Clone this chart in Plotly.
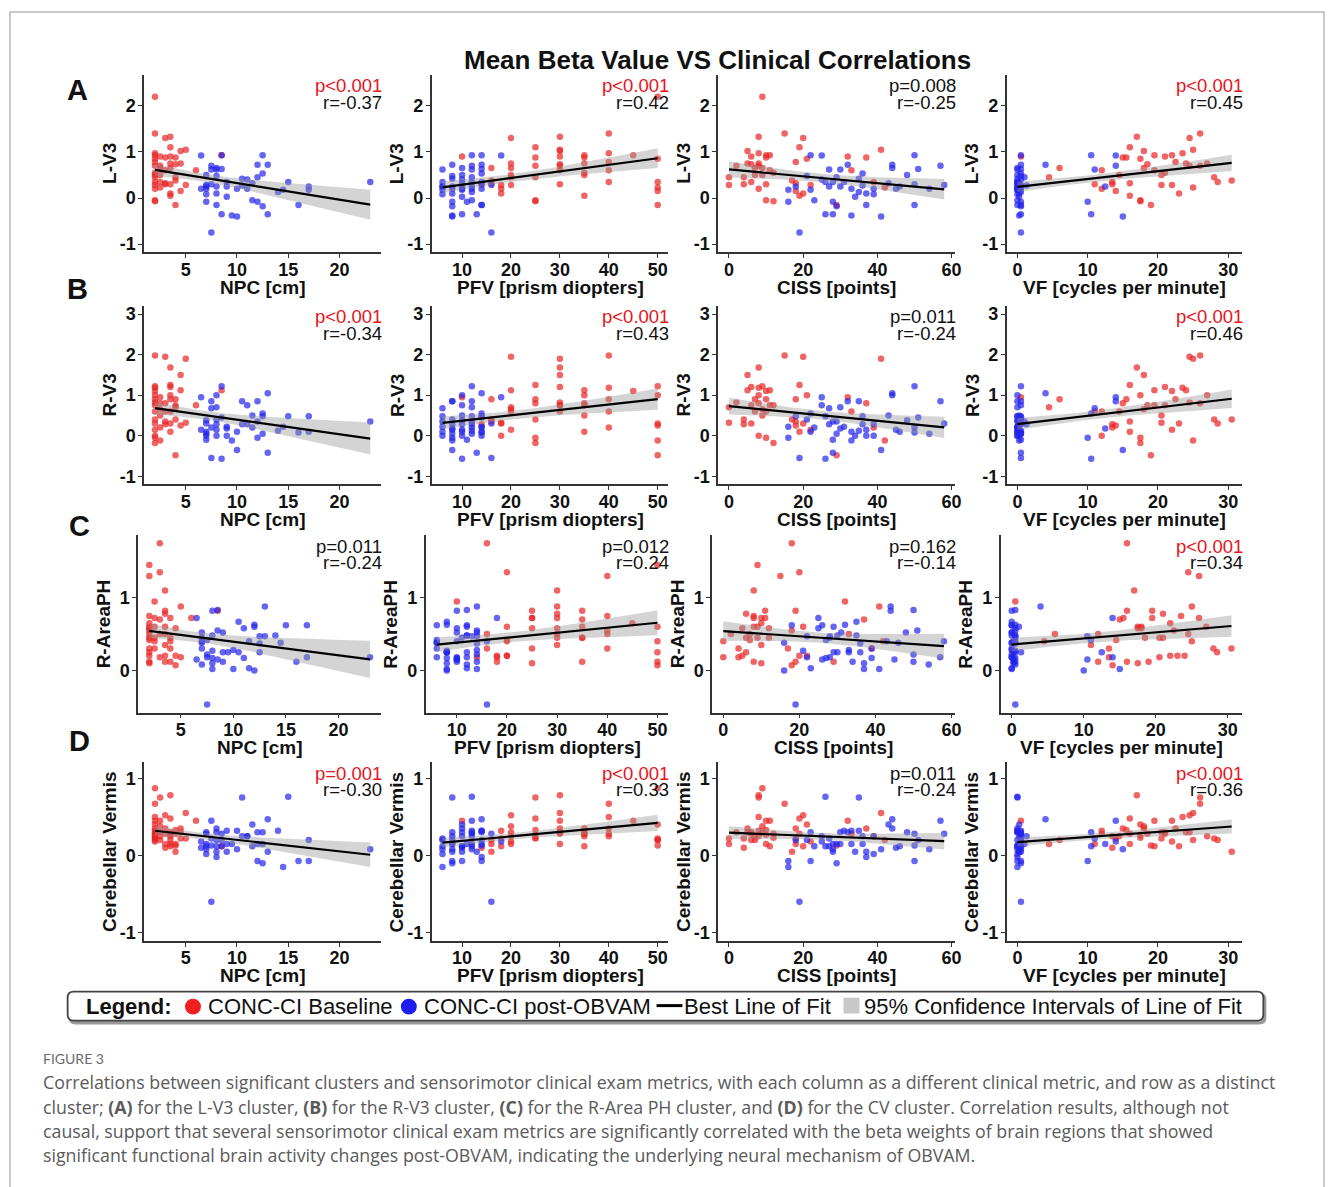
import numpy as np
import plotly.graph_objects as go

W, H = 1333, 1187
nan = float("nan")

# ---------------- data ----------------
# CONC-CI Baseline subjects (red)
base_npc = [2, 2, 2, 2, 2, 2, 2, 2, 2, 2, 2, 2, 2, 2, 2,
            2.5, 2.5, 2.5, 2.5, 2.5, 2.5, 3, 3, 3, 3, 3,
            3.5, 3.5, 3.5, 3.5, 3.5, 3.5, 3.5, 3.5, 4, 4, 4, 4, 4,
            4.5, 4.5, 4.5, 5, 5, 6, 8.5]
base_pfv = [50, 40, 40, 45, 50, 40, 30, 35, 20, 25, 50, 20, 18, 25, 25,
            10, 25, 20, 35, 40, 50, 20, 35, 40, 16, 14,
            30, 25, 30, 35, 16, 30, 18, 35, 25, 30, 20, 16, 50,
            30, 20, 50, 30, 18, 30, 35]
base_ciss = [9, 15, 8, 10, 21, 18, 2, 12, 7, 4, 6, 22, 8, 10, 12,
             32, 8, 9, 9, 39, 42, 20, 37, 33, 18, 4,
             8, 19, 6, 8, 7, 10, 20, 19, 10, 6, 0, 17, 29,
             5, 5, 18, 41, 0, 11, 11]
base_vf = [nan, 26, 23.5, 22, 17.5, 22.5, 24.5, 21, 14.5, 28, 28.5, 22, 12, 17.5, 17.5,
           0.5, 26, 18, 20.5, 13.5, 25, 24.5, 15, 12, 16, 13.5,
           17, 16, 21, 27, 6, 11, 23, 16, 15.5, 18.5, 4.5, 30.5, 19,
           18, 24, 14, 25, 20.5, 19.5, 19.5]
base_lv3 = [2.20, 1.40, 0.97, 0.93, 0.85, 0.78, 0.70, 0.55, 0.50, 0.45, 0.35, 0.28, 0.20, -0.05, -0.07,
            0.90, 0.70, 0.65, 0.50, 0.35, 0.23, 1.30, 0.88, 0.60, 0.32, 0.30,
            1.33, 1.10, 0.90, 0.75, 0.65, 0.30, 0.10, 0.05, 0.88, 0.73, 0.45, 0.38, -0.15,
            1.02, 0.75, 0.15, 1.05, 0.28, 0.60, 0.93]
base_rv3 = [1.22, 1.98, 1.18, 1.10, 1.00, 0.90, 0.82, 0.75, 0.60, 0.40, 0.30, 0.15, 0.00, -0.05, -0.18,
            0.95, 0.80, 0.65, 0.50, 0.20, -0.12, 1.95, 0.80, 0.60, 0.35, 0.28,
            1.68, 1.25, 1.20, 1.00, 0.90, 0.60, 0.30, 0.10, 0.90, 0.75, 0.70, 0.40, -0.48,
            1.50, 1.12, 0.25, 1.90, 0.32, 0.75, 1.12]
base_raph = [1.45, 1.30, 0.75, 0.65, 0.60, 0.55, 0.50, 0.45, 0.42, 0.30, 0.25, 0.20, 0.12, 0.10, 0.58,
             0.95, 0.72, 0.60, 0.45, 0.30, 0.40, 1.35, 0.70, 0.50, 1.75, 0.18,
             1.10, 0.82, 0.78, 0.60, 0.50, 0.35, 0.20, 0.12, 0.72, 0.45, 0.40, 0.30, 0.12,
             0.58, 0.20, 0.07, 0.88, 0.18, 0.72, 0.82]
base_cv = [0.87, 0.67, 0.50, 0.45, 0.40, 0.35, 0.30, 0.28, 0.25, 0.22, 0.20, 0.18, 0.32, 0.27, 0.23,
           0.45, 0.75, 0.38, 0.30, 0.25, 0.20, 0.52, 0.35, 0.28, 0.15, 0.10,
           0.78, 0.48, 0.30, 0.25, 0.20, 0.15, 0.12, 0.28, 0.33, 0.28, 0.15, 0.05, 0.13,
           0.35, 0.30, 0.22, 0.55, 0.22, 0.45, 0.12]

# CONC-CI post-OBVAM subjects (blue)
post_npc = [6.5, 6.5, 7, 7, 7, 7, 7, 7, 7.5, 7.5, 7.5, 7.5, 8, 8, 8, 8, 8, 8,
            8.5, 8.5, 8.5, 9, 9, 9, 9.5, 10, 10, 10.5, 10.5, 11, 11, 11.5, 11.5,
            12, 12, 12, 12.5, 12.5, 12.5, 13, 13, 14, 14.5, 15, 16, 17, 17, 23]
post_pfv = [18, 10, 10, 16, 6, 12, 6, 11, 12, 6, 14, 16, 10, 12, 8, 10, 8, 14,
            12, 14, 10, 14, 8, 10, 8, 14, 8, 8, 12, 10, 8, 10, 12,
            8, 12, 8, 14, 14, 8, 14, 13, 12, 6, 12, 14, 6, 10, 6]
post_ciss = [25, 45, 48, 58, 46, 54, 39, 28, 57, 27, 50, 19, 44, 30, 21, 27, 37, 37,
             50, 51, 26, 31, 30, 34, 33, 33, 41, 35, 36, 25, 39, 43, 23,
             32, 29, 16, 22, 36, 29, 44, 28, 35, 16, 26, 50, 18, 22, 28]
post_vf = [14, 0.25, 0, 0.5, 0, 0.5, 0, 0.5, 14, 11, 0, 0.5, 0, 0, 0.5, 0.5, 0.25, 0,
           0.5, 0.5, 10.5, 0, 12.5, 0.25, 0.25, 0, 15, 0, 1.3, 0.5, 0.25, 0.25, 0,
           0.5, 1, 10, 10.5, 0.5, 0.5, 4, 0.5, 0.5, 0, 0, 0.5, 0, 0, 0]
post_lv3 = [0.92, 0.20, 0.50, 0.28, 0.25, 0.20, 0.08, -0.08, 0.70, 0.62, 0.30, -0.75,
            0.65, 0.62, 0.48, 0.25, 0.10, -0.15, 0.93, 0.63, -0.35, 0.35, 0.25, 0.03,
            -0.38, 0.20, -0.40, 0.42, 0.27, 0.40, 0.20, 0.32, -0.05,
            0.72, 0.45, -0.08, 0.93, 0.53, -0.18, 0.72, -0.35, 0.13, 0.18, 0.35, -0.15, 0.25, 0.18, 0.35]
post_rv3 = [0.95, 0.15, 0.38, 0.30, 0.10, 0.05, 0.00, -0.10, 0.85, 0.68, 0.20, -0.55,
            1.00, 0.70, 0.40, 0.28, 0.15, 0.00, 1.22, 0.45, -0.57, 0.22, 0.18, 0.00,
            -0.12, 0.10, -0.35, 0.85, 0.28, 0.75, 0.28, 0.50, 0.20,
            0.85, 0.35, -0.05, 0.55, 0.48, 0.05, 1.05, -0.42, 0.12, 0.22, 0.48, 0.08, 0.48, 0.10, 0.35]
post_raph = [0.72, 0.15, 0.52, 0.40, 0.38, 0.08, 0.30, 0.45, 0.18, 0.42, 0.22, -0.47,
             0.82, 0.48, 0.27, 0.17, 0.10, 0.02, 0.83, 0.55, 0.15, 0.52, 0.25, 0.12,
             0.25, 0.28, 0.02, 0.67, 0.25, 0.58, 0.17, 0.40, 0.03,
             0.63, 0.60, 0.00, 0.47, 0.37, 0.25, 0.88, 0.47, 0.48, 0.38, 0.62, 0.12, 0.62, 0.18, 0.18]
post_cv = [0.18, 0.10, 0.30, 0.28, 0.12, 0.08, 0.02, 0.15, 0.45, 0.22, 0.13, -0.60,
           0.35, 0.30, 0.20, 0.12, 0.05, -0.02, 0.28, 0.20, 0.12, 0.32, 0.15, 0.05,
           0.15, 0.32, 0.08, 0.75, 0.25, 0.25, 0.25, 0.40, 0.12,
           0.30, 0.15, -0.07, 0.30, 0.15, -0.10, 0.47, 0.05, 0.32, -0.15, 0.76, -0.07, 0.20, -0.07, 0.08]

x_titles = ["NPC [cm]", "PFV [prism diopters]", "CISS [points]", "VF [cycles per minute]"]
y_titles = ["L-V3", "R-V3", "R-AreaPH", "Cerebellar Vermis"]
row_letters = ["A", "B", "C", "D"]
p_labels = [["p<0.001", "p<0.001", "p=0.008", "p<0.001"],
            ["p<0.001", "p<0.001", "p=0.011", "p<0.001"],
            ["p=0.011", "p=0.012", "p=0.162", "p<0.001"],
            ["p=0.001", "p<0.001", "p=0.011", "p<0.001"]]
r_labels = [["r=-0.37", "r=0.42", "r=-0.25", "r=0.45"],
            ["r=-0.34", "r=0.43", "r=-0.24", "r=0.46"],
            ["r=-0.24", "r=0.24", "r=-0.14", "r=0.34"],
            ["r=-0.30", "r=0.33", "r=-0.24", "r=0.36"]]
x_tick_vals = [[5, 10, 15, 20], [10, 20, 30, 40, 50], [0, 20, 40, 60], [0, 10, 20, 30]]
x_tick_text = [["5", "10", "15", "20"], ["10", "20", "30", "40", "50"], ["0", "20", "40", "60"],
               ["0", "10", "20", "30"]]
y_tick_vals = [[-1, 0, 1, 2], [-1, 0, 1, 2, 3], [0, 1], [-1, 0, 1]]
y_tick_text = [["-1", "0", "1", "2"], ["-1", "0", "1", "2", "3"], ["0", "1"], ["-1", "0", "1"]]
y_limits = [[-1, 2.5], [-1, 3], None, [-1, 1.1]]

legend_labels = ["CONC-CI Baseline", "CONC-CI post-OBVAM", "Best Line of Fit",
                 "95% Confidence Intervals of Line of Fit"]
caption_head = "FIGURE 3"
caption_lines = [
    "Correlations between significant clusters and sensorimotor clinical exam metrics, with each column as a different clinical metric, and row as a distinct",
    "cluster; <b>(A)</b> for the L-V3 cluster, <b>(B)</b> for the R-V3 cluster, <b>(C)</b> for the R-Area PH cluster, and <b>(D)</b> for the CV cluster. Correlation results, although not",
    "causal, support that several sensorimotor clinical exam metrics are significantly correlated with the beta weights of brain regions that showed",
    "significant functional brain activity changes post-OBVAM, indicating the underlying neural mechanism of OBVAM.",
]

base_x = [base_npc, base_pfv, base_ciss, base_vf]
post_x = [post_npc, post_pfv, post_ciss, post_vf]
base_y = [base_lv3, base_rv3, base_raph, base_cv]
post_y = [post_lv3, post_rv3, post_raph, post_cv]

# ---------------- layout geometry (pixels) ----------------
COL_L = [145, 434, 722, 1012]
COL_R = [383, 672, 960, 1249]
ROW_T = [73, 305, 535, 763]
ROW_B = [251, 484, 713, 942]
ROW_SHIFT = [0, 0, -6, 0]

RED = "rgba(232,35,35,0.70)"
BLUE = "rgba(35,35,235,0.70)"
AXC = "#333333"
FONT = "Liberation Sans, Arial, sans-serif"
T975 = 1.986


def px(x):
    return x / W


def py(y):
    return 1 - y / H


def expand(lo, hi, f=0.05):
    d = (hi - lo) * f
    return [lo - d, hi + d]


def bold(lst):
    return ["<b>" + t + "</b>" for t in lst]


fig = go.Figure()
annotations = []
shapes = []

for r in range(4):
    for c in range(4):
        k = r * 4 + c + 1
        sx = "" if k == 1 else str(k)
        bx = np.array(base_x[c], float)
        by = np.array(base_y[r], float)
        qx = np.array(post_x[c], float)
        qy = np.array(post_y[r], float)
        mb = ~np.isnan(bx) & ~np.isnan(by)
        mq = ~np.isnan(qx) & ~np.isnan(qy)
        ax_ = np.concatenate([bx[mb], qx[mq]])
        ay_ = np.concatenate([by[mb], qy[mq]])

        fig.add_trace(go.Scatter(x=bx[mb], y=by[mb], mode="markers", xaxis="x" + sx, yaxis="y" + sx,
                                 marker=dict(size=6.5, color=RED, line=dict(width=0)),
                                 showlegend=False, hoverinfo="skip"))
        fig.add_trace(go.Scatter(x=qx[mq], y=qy[mq], mode="markers", xaxis="x" + sx, yaxis="y" + sx,
                                 marker=dict(size=6.5, color=BLUE, line=dict(width=0)),
                                 showlegend=False, hoverinfo="skip"))

        # linear fit with 95% CI (like geom_smooth(method="lm"))
        n = len(ax_)
        xm = ax_.mean()
        sxx = ((ax_ - xm) ** 2).sum()
        b1 = ((ax_ - xm) * (ay_ - ay_.mean())).sum() / sxx
        b0 = ay_.mean() - b1 * xm
        resid = ay_ - (b0 + b1 * ax_)
        s = np.sqrt((resid ** 2).sum() / (n - 2))
        gx = np.linspace(ax_.min(), ax_.max(), 80)
        gy = b0 + b1 * gx
        se = s * np.sqrt(1 / n + (gx - xm) ** 2 / sxx)
        lo, hi = gy - T975 * se, gy + T975 * se
        fig.add_trace(go.Scatter(x=np.concatenate([gx, gx[::-1]]), y=np.concatenate([hi, lo[::-1]]),
                                 xaxis="x" + sx, yaxis="y" + sx, mode="lines", fill="toself",
                                 fillcolor="rgba(153,153,153,0.42)", line=dict(width=0),
                                 showlegend=False, hoverinfo="skip"))
        fig.add_trace(go.Scatter(x=gx, y=gy, xaxis="x" + sx, yaxis="y" + sx, mode="lines",
                                 line=dict(color="black", width=2.2), showlegend=False, hoverinfo="skip"))

        xr = expand(np.nanmin(np.concatenate([bx, qx])), np.nanmax(np.concatenate([bx, qx])))
        if y_limits[r] is None:
            yr = expand(np.nanmin(np.concatenate([by, qy])), np.nanmax(np.concatenate([by, qy])))
        else:
            yr = expand(*y_limits[r])

        left = COL_L[c] + ROW_SHIFT[r]
        right = COL_R[c]
        top = ROW_T[r]
        bot = ROW_B[r]
        common = dict(showline=True, linecolor=AXC, linewidth=1.6, ticks="outside", ticklen=4,
                      tickwidth=1.3, tickcolor=AXC, showgrid=False, zeroline=False,
                      tickfont=dict(family=FONT, size=18, color="#111111"),
                      fixedrange=True)
        fig.update_layout(**{
            "xaxis" + sx: dict(domain=[px(left), px(right)], range=xr, tickvals=x_tick_vals[c],
                               ticktext=bold(x_tick_text[c]), ticklabelstandoff=-4,
                               anchor="y" + sx, **common),
            "yaxis" + sx: dict(domain=[py(bot), py(top)], range=yr, tickvals=y_tick_vals[r],
                               ticktext=bold(y_tick_text[r]), ticklabelstandoff=-1,
                               anchor="x" + sx, **common),
        })

        # p / r annotations
        pcol = "#e8141c" if (p_labels[r][c].startswith("p<") or p_labels[r][c] == "p=0.001") else "#111111"
        annotations.append(dict(x=px(right + 3), y=py(top + 11), xref="paper", yref="paper",
                                text=p_labels[r][c], showarrow=False, xanchor="right", yanchor="middle",
                                font=dict(family=FONT, size=18.5, color=pcol)))
        annotations.append(dict(x=px(right + 3), y=py(top + 27.5), xref="paper", yref="paper",
                                text=r_labels[r][c], showarrow=False, xanchor="right", yanchor="middle",
                                font=dict(family=FONT, size=18.5, color="#111111")))
        # axis titles
        annotations.append(dict(x=px((left + right) / 2), y=py(bot + 35), xref="paper", yref="paper",
                                text="<b>" + x_titles[c] + "</b>", showarrow=False,
                                xanchor="center", yanchor="middle",
                                font=dict(family=FONT, size=19, color="#111111")))
        annotations.append(dict(x=px(left - 35), y=py((top + bot) / 2), xref="paper", yref="paper",
                                text="<b>" + y_titles[r] + "</b>", showarrow=False, textangle=-90,
                                xanchor="center", yanchor="middle",
                                font=dict(family=FONT, size=19, color="#111111")))

# row letters
for r, (lx, ly) in enumerate([(78, 88), (78, 288), (80, 526), (80, 741)]):
    annotations.append(dict(x=px(lx), y=py(ly), xref="paper", yref="paper", text="<b>" + row_letters[r] + "</b>",
                            showarrow=False, xanchor="center", yanchor="middle",
                            font=dict(family=FONT, size=29, color="#111111")))

# title
annotations.append(dict(x=px(721), y=py(58), xref="paper", yref="paper",
                        text="<b>Mean Beta Value VS Clinical Correlations</b>", showarrow=False,
                        xanchor="center", yanchor="middle", font=dict(family=FONT, size=26, color="#111111")))

# legend box (rounded)
def rounded_path(x0, y0, x1, y1, rad):
    X0, X1 = px(x0), px(x1)
    Y0, Y1 = py(y0), py(y1)
    rx, ry = rad / W, rad / H
    return (f"M {X0+rx},{Y0} L {X1-rx},{Y0} Q {X1},{Y0} {X1},{Y0-ry} "
            f"L {X1},{Y1+ry} Q {X1},{Y1} {X1-rx},{Y1} L {X0+rx},{Y1} Q {X0},{Y1} {X0},{Y1+ry} "
            f"L {X0},{Y0-ry} Q {X0},{Y0} {X0+rx},{Y0} Z")

shapes.append(dict(type="path", path=rounded_path(70, 995, 1272, 1025, 6), xref="paper", yref="paper",
                   line=dict(color="#9a9a9a", width=2), fillcolor="#9a9a9a", layer="above"))
shapes.append(dict(type="path", path=rounded_path(68, 993, 1270, 1022, 6), xref="paper", yref="paper",
                   line=dict(color="#444444", width=1.8), fillcolor="white", layer="above"))
# legend keys
shapes.append(dict(type="circle", xref="paper", yref="paper", x0=px(186), x1=px(202), y0=py(1016), y1=py(1000),
                   fillcolor="#f21d1d", line=dict(width=0), layer="above"))
shapes.append(dict(type="circle", xref="paper", yref="paper", x0=px(403), x1=px(419), y0=py(1016), y1=py(1000),
                   fillcolor="#1d1df2", line=dict(width=0), layer="above"))
shapes.append(dict(type="line", xref="paper", yref="paper", x0=px(660), x1=px(686), y0=py(1007), y1=py(1007),
                   line=dict(color="black", width=3), layer="above"))
shapes.append(dict(type="rect", xref="paper", yref="paper", x0=px(848), x1=px(864), y0=py(1015), y1=py(999),
                   fillcolor="#c8c8c8", line=dict(width=0), layer="above"))
annotations.append(dict(x=px(84), y=py(1008), xref="paper", yref="paper", text="<b>Legend:</b>",
                        showarrow=False, xanchor="left", yanchor="middle",
                        font=dict(family=FONT, size=22, color="#111111")))
for lx, lab in zip([207, 424, 686, 867], legend_labels):
    annotations.append(dict(x=px(lx), y=py(1008), xref="paper", yref="paper", text=lab,
                            showarrow=False, xanchor="left", yanchor="middle",
                            font=dict(family=FONT, size=22, color="#111111")))

# caption
annotations.append(dict(x=px(41), y=py(1060), xref="paper", yref="paper", text=caption_head,
                        showarrow=False, xanchor="left", yanchor="middle",
                        font=dict(family="Lato, sans-serif", size=14, color="#6b6b6b")))
for i, line in enumerate(caption_lines):
    annotations.append(dict(x=px(41), y=py(1084 + i * 24.3), xref="paper", yref="paper", text=line,
                            showarrow=False, xanchor="left", yanchor="middle",
                            font=dict(family="Open Sans, sans-serif", size=17.8, color="#5a5a5a")))

# outer frame
shapes.append(dict(type="rect", xref="paper", yref="paper", x0=px(10), x1=px(1331), y0=py(1230), y1=py(10),
                   line=dict(color="#b8b8b8", width=1.5), fillcolor="rgba(0,0,0,0)", layer="below"))

fig.update_layout(width=W, height=H, margin=dict(l=0, r=0, t=0, b=0), autosize=False,
                  paper_bgcolor="white", plot_bgcolor="white", showlegend=False,
                  annotations=annotations, shapes=shapes,
                  font=dict(family=FONT, color="#111111"))

fig.write_html("out.html", config={"displayModeBar": False},
               post_script="document.body.style.margin='0px';document.body.style.overflow='hidden';")
